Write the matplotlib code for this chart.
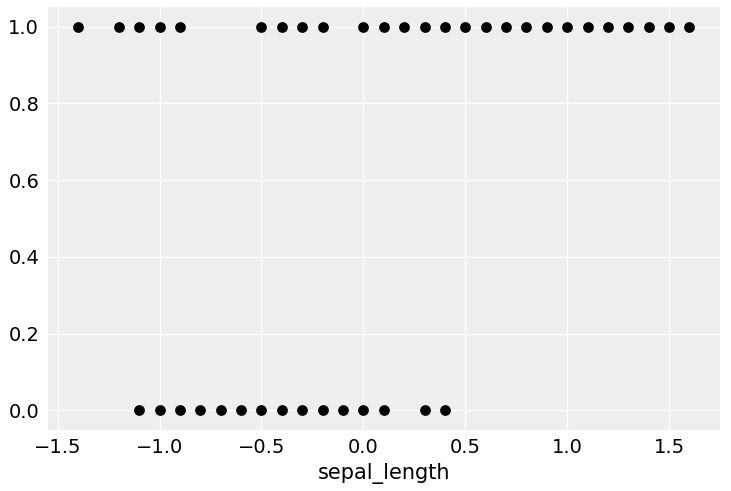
import matplotlib
matplotlib.use("Agg")
import matplotlib.pyplot as plt

# centered sepal length values, class 1 and class 0
x_one = [-1.4, -1.2, -1.1, -1.0, -0.9, -0.5, -0.4, -0.3, -0.2, 0.0, 0.1, 0.2,
         0.3, 0.4, 0.5, 0.6, 0.7, 0.8, 0.9, 1.0, 1.1, 1.2, 1.3, 1.4, 1.5, 1.6]
x_zero = [-1.1, -1.0, -0.9, -0.8, -0.7, -0.6, -0.5, -0.4, -0.3, -0.2, -0.1,
          0.0, 0.1, 0.3, 0.4]

fig = plt.figure(figsize=(7.31, 4.91), dpi=100)
ax = fig.add_subplot(111)
ax.set_facecolor('#eeeeee')
for s in ax.spines.values():
    s.set_visible(False)
ax.grid(True, color='white', linewidth=1)
ax.set_axisbelow(True)

ax.scatter(x_one, [1] * len(x_one), color='black', s=45, zorder=3)
ax.scatter(x_zero, [0] * len(x_zero), color='black', s=45, zorder=3)

ax.set_xlim(-1.55, 1.75)
ax.set_ylim(-0.05, 1.05)
ax.set_xticks([-1.5, -1.0, -0.5, 0.0, 0.5, 1.0, 1.5])
ax.set_xlabel('sepal_length', fontsize=15)
ax.tick_params(labelsize=14, length=0, pad=6)

plt.subplots_adjust(left=0.065, right=0.985, top=0.985, bottom=0.125)
plt.savefig('out.png', dpi=100)
